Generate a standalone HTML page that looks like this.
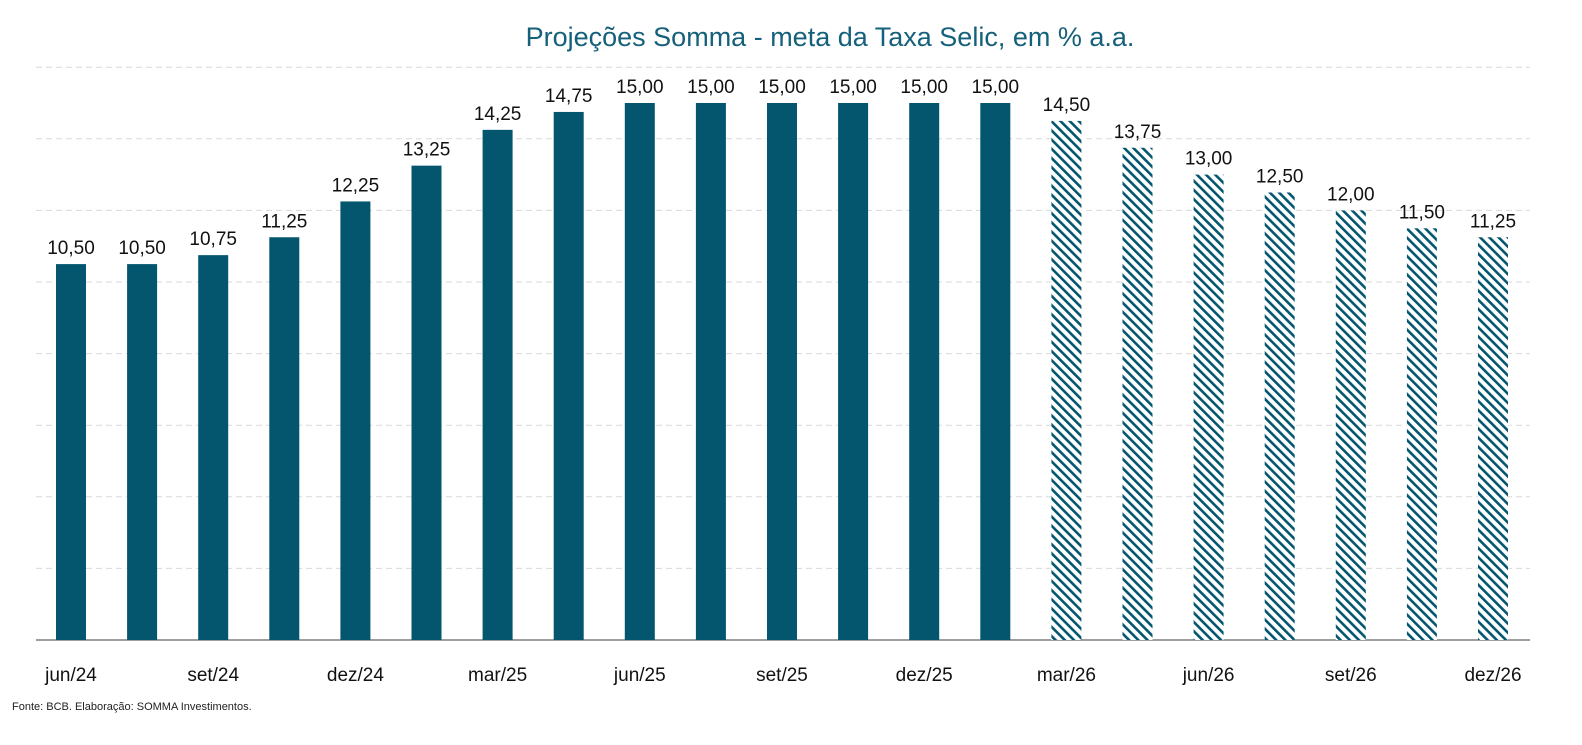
<!DOCTYPE html>
<html><head><meta charset="utf-8">
<style>
html,body{margin:0;padding:0;background:#fff;}
body{width:1582px;height:740px;overflow:hidden;font-family:"Liberation Sans",sans-serif;}
</style></head>
<body>
<svg id="chart" width="1582" height="740" xmlns="http://www.w3.org/2000/svg">
<defs>
<pattern id="hatch" patternUnits="userSpaceOnUse" width="6.5" height="6.5" patternTransform="rotate(-45)">
<rect x="0" y="0" width="6.5" height="6.5" fill="#fff"/>
<rect x="0" y="0" width="2.6" height="6.5" fill="#03566e"/>
</pattern>
</defs>
<text x="830" y="46" text-anchor="middle" font-size="27" fill="#15607a">Projeções Somma - meta da Taxa Selic, em % a.a.</text>
<g id="grid"></g>
<g id="bars"></g>
<g id="xlabels"></g>
<text x="12" y="710" font-size="11" fill="#222">Fonte: BCB. Elaboração: SOMMA Investimentos.</text>
</svg>
<script>
const values = [10.50,10.50,10.75,11.25,12.25,13.25,14.25,14.75,15.00,15.00,15.00,15.00,15.00,15.00,14.50,13.75,13.00,12.50,12.00,11.50,11.25];
const projected = [0,0,0,0,0,0,0,0,0,0,0,0,0,0,1,1,1,1,1,1,1];
const tickLabels = ["jun/24","set/24","dez/24","mar/25","jun/25","set/25","dez/25","mar/26","jun/26","set/26","dez/26"];
const gridTicks = [2,4,6,8,10,12,14,16];

const NS = "http://www.w3.org/2000/svg";
const y0 = 640, pxPerUnit = 35.8;
const yScale = v => y0 - v * pxPerUnit;
const xScale = i => 71 + i * 71.1;
const barW = 30;
function mk(tag, attrs){const e=document.createElementNS(NS,tag);for(const k in attrs)e.setAttribute(k,attrs[k]);return e;}
const grid=document.getElementById('grid'), bars=document.getElementById('bars'), xl=document.getElementById('xlabels');
gridTicks.forEach(t=>{
  const l=mk('line',{x1:36,x2:1530,y1:yScale(t),y2:yScale(t),stroke:'#d9d9d9','stroke-width':1,'stroke-dasharray':'6,4'});
  
  
  grid.appendChild(l);
});
const ax=mk('line',{x1:36,x2:1530,y1:y0,y2:y0,stroke:'#7f7f7f','stroke-width':1.5});


grid.appendChild(ax);
values.forEach((v,i)=>{
  const cx=xScale(i), top=yScale(v);
  const r=mk('rect',{x:cx-barW/2,y:top,width:barW,height:y0-top,fill:projected[i]?'url(#hatch)':'#03566e'});
  
  
  bars.appendChild(r);
  const t=mk('text',{x:cx,y:top-10,'text-anchor':'middle','font-size':19,fill:'#111'});
  t.textContent=v.toFixed(2).replace('.',',');
  
  
  bars.appendChild(t);
});
tickLabels.forEach((s,k)=>{
  const t=mk('text',{x:xScale(k*2),y:681,'text-anchor':'middle','font-size':19,fill:'#111'});
  t.textContent=s;
  
  
  xl.appendChild(t);
});
</script>
</body></html>
